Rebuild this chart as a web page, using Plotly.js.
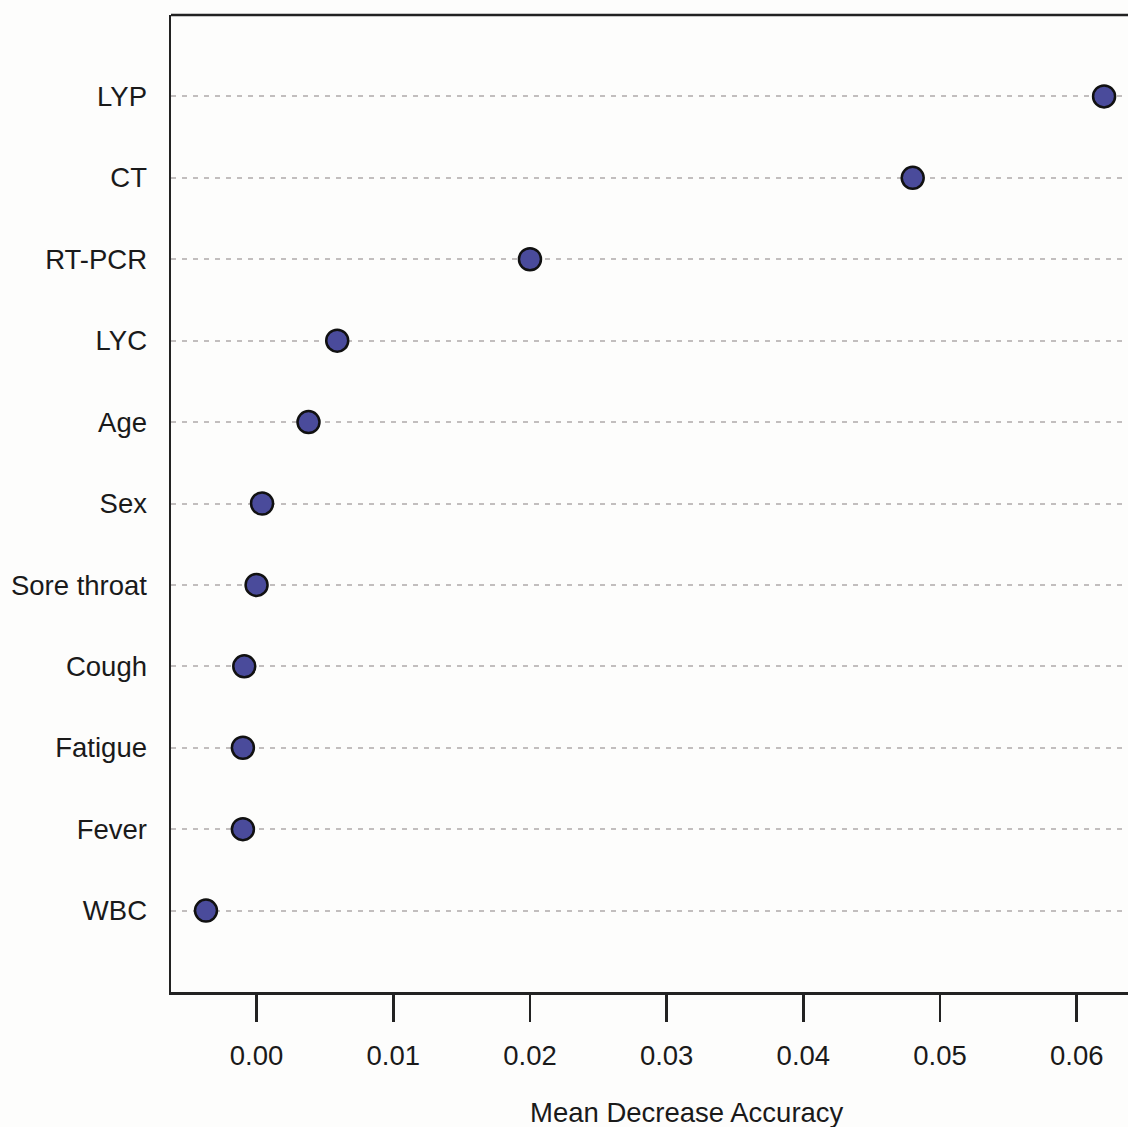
<!DOCTYPE html>
<html>
<head>
<meta charset="utf-8">
<script src="https://cdn.plot.ly/plotly-3.0.1.min.js"></script>
<style>html,body{margin:0;padding:0;background:#fdfdfc;}</style>
</head>
<body>
<div id="chart" style="width:1128px;height:1127px;"></div>
<script>
const features = ["WBC", "Fever", "Fatigue", "Cough", "Sore throat", "Sex", "Age", "LYC", "RT-PCR", "CT", "LYP"];
const meanDecreaseAccuracy = [-0.0037, -0.0010, -0.0010, -0.0009, 0.0000, 0.0004, 0.0038, 0.0059, 0.0200, 0.0480, 0.0620];
const xTickValues = [0, 0.01, 0.02, 0.03, 0.04, 0.05, 0.06];
const xTickLabels = ["0.00", "0.01", "0.02", "0.03", "0.04", "0.05", "0.06"];
const xAxisTitle = "Mean Decrease Accuracy";

const trace = {
  type: "scatter",
  mode: "markers",
  x: meanDecreaseAccuracy,
  y: features,
  marker: {size: 22, color: "#4a4b9b", line: {color: "#111111", width: 2.5}},
  hoverinfo: "x+y"
};

const layout = {
  width: 1128, height: 1127,
  margin: {l: 171, r: 0, t: 15, b: 135},
  paper_bgcolor: "#fdfdfc",
  plot_bgcolor: "#fdfdfc",
  font: {family: "Liberation Sans, Arial, sans-serif", size: 27.5, color: "#1a1a1a"},
  showlegend: false,
  xaxis: {
    range: [-0.00626, 0.06375],
    tickvals: xTickValues,
    ticktext: xTickLabels,
    ticks: "outside", ticklen: 27, tickwidth: 2.5, tickcolor: "#222222",
    showgrid: false, zeroline: false,
    showline: true, linecolor: "#222222", linewidth: 2.5,
    ticklabelstandoff: 10,
    tickfont: {size: 27.5}
  },
  yaxis: {
    type: "category",
    categoryorder: "array", categoryarray: features,
    range: [-1, 11],
    ticks: "", showline: true, linecolor: "#222222", linewidth: 2.5,
    showgrid: true, gridcolor: "#c2bebe", gridwidth: 2, griddash: "5px,6px",
    zeroline: false,
    ticklabelstandoff: 16,
    tickfont: {size: 27.5}
  },
  annotations: [
    {text: xAxisTitle, xref: "paper", yref: "paper", x: 0.539, y: 0, xanchor: "center", yanchor: "middle",
     yshift: -120, showarrow: false, font: {size: 27.5}}
  ],
  shapes: [
    {type: "line", xref: "paper", yref: "paper", x0: 0, x1: 1.01, y0: 1, y1: 1, line: {color: "#222222", width: 2.5}}
  ]
};

Plotly.newPlot("chart", [trace], layout, {displayModeBar: false, staticPlot: true});
</script>
</body>
</html>
